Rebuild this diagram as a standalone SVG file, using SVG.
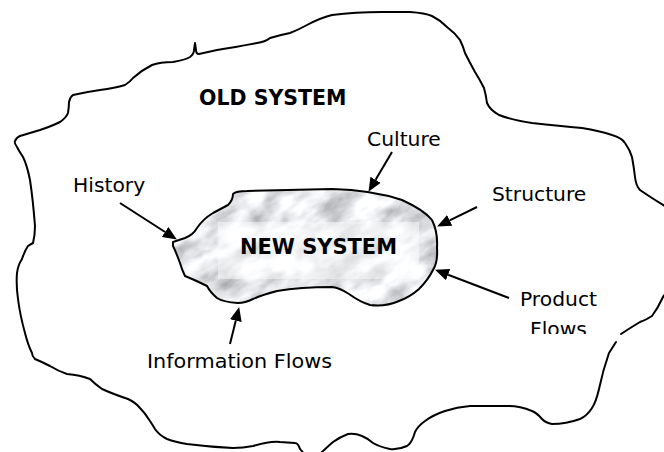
<svg xmlns="http://www.w3.org/2000/svg" width="664" height="452" viewBox="0 0 664 452">
<style>
.outline{fill:none;stroke:#000;stroke-width:2;stroke-linejoin:round;stroke-linecap:round}
.lbl{font-family:"DejaVu Sans","Liberation Sans",sans-serif;font-size:20.3px;fill:#000}
.bold{font-family:"DejaVu Sans","Liberation Sans",sans-serif;font-size:20.5px;font-weight:bold;fill:#000}
.arrow{stroke:#000;stroke-width:2;fill:none;marker-end:url(#head)}
</style>
<defs>
<marker id="head" markerUnits="userSpaceOnUse" viewBox="0 -7 15 14" refX="0" refY="0" markerWidth="15" markerHeight="14" orient="auto">
<path d="M0,-6 L14,0 L0,6 Z" fill="#000"/>
</marker>
<filter id="marble" x="0" y="0" width="100%" height="100%" filterUnits="objectBoundingBox">
<feTurbulence type="fractalNoise" baseFrequency="0.03 0.055" numOctaves="4" seed="11" result="n"/>
<feColorMatrix in="n" type="matrix" values="1.1 0 0 0 0.25  1.1 0 0 0 0.26  1.1 0 0 0 0.28  0 0 0 0 1"/>
</filter>
<clipPath id="blobClip">
<path d="M173,242 L185,238 Q193,235 197,228 Q203,219 213,213 L228,205 Q233,200 233,194 Q236,191 247,191 L332,189 Q372,190 402,200 Q424,210 432,220 Q438,232 437,248 Q438,262 433,270 Q428,280 419,289 Q410,297 399,301 Q385,307 370,305 Q360,302 349,294 Q340,288 332,287 Q300,287 277,291 Q262,295 253,299 Q245,303 238,303 Q223,302 217,298 Q210,292 207,286 Q195,280 185,276 Q182,270 180,263 Q176,252 173,246 Z"/>
</clipPath>
<clipPath id="flowsClip"><rect x="0" y="0" width="664" height="334"/></clipPath>
</defs>
<rect x="0" y="0" width="664" height="452" fill="#fff"/>

<g id="old-system">
<path class="outline" d="M616,342 L609,353 Q603,370 599,389 Q596,402 592,408 Q587,416 580,419 Q566,424 552,424 Q546,423 542,419 Q537,413 532,411 Q520,406 509,406 L470,406 Q457,407 445,411 Q433,415 425,421 Q418,426 415,432 Q412,443 407,446 Q398,450 390,449 Q380,447 373,443 Q367,438 362,436 Q355,433 348,434 Q340,437 333,442 Q326,448 320,454 L304,454 Q302,451 300,449 Q298,443 295,443 L280,442 Q270,441 253,446 Q243,448 233,448 Q210,447 187,444 Q175,442 167,439 Q159,435 155,429 Q152,424 150,421 Q145,413 140,408 Q135,402 128,399 Q113,394 102,389 Q95,384 90,379 Q80,375 67,374 Q58,371 50,366 Q40,361 35,359 Q32,356 32,353 Q28,345 25,333 Q20,315 18,299 Q16,285 17,273 Q18,265 22,259 Q25,250 28,246 Q31,244 33,243 Q35,235 35,226 Q33,200 30,180 Q27,165 23,157 Q19,151 17,147 Q14,143 15,141 Q17,137 20,136 Q30,133 40,130 Q52,126 60,122 Q66,118 68,113 Q69,107 69,102 Q70,97 73,95 Q86,92 100,90 Q115,88 125,85 Q130,82 133,78 Q142,70 152,65 Q160,62 173,62 Q185,60 190,57 Q194,54 194,50 L195,43 L196,50 Q196,54 199,54 Q208,52 217,50 Q235,47 257,43 Q265,42 270,38 Q280,35 290,33 Q298,30 307,25 Q320,18 332,15 Q355,12 382,12 L410,12 Q425,13 432,16 Q440,20 447,27 Q455,33 460,40 Q463,46 465,53 Q470,63 475,72 Q480,80 484,88 Q486,95 487,103 Q490,110 499,115 Q512,120 532,123 Q560,126 582,128 Q600,131 612,135 Q622,138 625,143 Q630,150 632,157 Q634,168 635,177 Q636,186 640,190 Q650,197 668,208 L668,292 Q664,295 663,297 Q658,308 652,316 Q646,320 640,322 Q630,328 621,334"/>
<text class="bold" x="199" y="105">OLD SYSTEM</text>
</g>

<g id="new-system">
<g clip-path="url(#blobClip)">
<g transform="rotate(-30 305 247)">
<rect x="120" y="110" width="370" height="275" filter="url(#marble)"/>
</g>
<rect x="218" y="222" width="201" height="57" fill="#fff" fill-opacity="0.45"/>
</g>
<path class="outline" d="M173,242 L185,238 Q193,235 197,228 Q203,219 213,213 L228,205 Q233,200 233,194 Q236,191 247,191 L332,189 Q372,190 402,200 Q424,210 432,220 Q438,232 437,248 Q438,262 433,270 Q428,280 419,289 Q410,297 399,301 Q385,307 370,305 Q360,302 349,294 Q340,288 332,287 Q300,287 277,291 Q262,295 253,299 Q245,303 238,303 Q223,302 217,298 Q210,292 207,286 Q195,280 185,276 Q182,270 180,263 Q176,252 173,246 Z"/>
<text class="bold" x="240" y="254" textLength="157" lengthAdjust="spacingAndGlyphs">NEW SYSTEM</text>
</g>

<g id="connectors">
<line class="arrow" x1="120" y1="203" x2="165.1" y2="232"/>
<line class="arrow" x1="392" y1="152" x2="375.6" y2="179.8"/>
<line class="arrow" x1="477" y1="207" x2="449.7" y2="220.3"/>
<line class="arrow" x1="509" y1="298" x2="448.1" y2="274.7"/>
<line class="arrow" x1="230" y1="344" x2="235.8" y2="320.6"/>
</g>

<g id="history"><text class="lbl" x="73" y="192">History</text></g>
<g id="culture"><text class="lbl" x="367" y="146">Culture</text></g>
<g id="structure"><text class="lbl" x="492" y="201">Structure</text></g>
<g id="product-flows">
<text class="lbl" x="520" y="306">Product</text>
<text class="lbl" x="530" y="336" clip-path="url(#flowsClip)">Flows</text>
</g>
<g id="information-flows"><text class="lbl" x="147" y="368" textLength="185" lengthAdjust="spacingAndGlyphs">Information Flows</text></g>
</svg>
